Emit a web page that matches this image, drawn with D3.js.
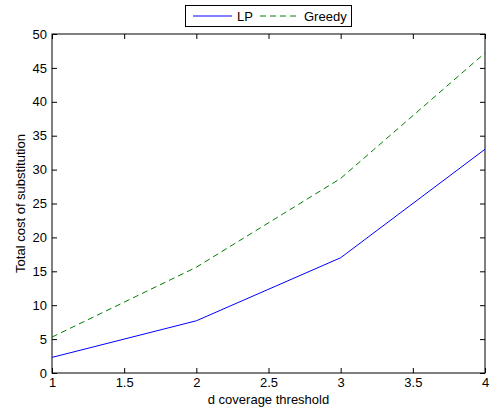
<!DOCTYPE html>
<html>
<head>
<meta charset="utf-8">
<script src="https://cdn.jsdelivr.net/npm/d3@7"></script>
<style>
  body { margin: 0; background: #fff; }
  text { font-family: "Liberation Sans", Arial, sans-serif; }
</style>
</head>
<body>
<div class="chart"></div>
<script>
// data
const thresholds = [1, 2, 3, 4];
const lpCost = [2.3, 7.7, 17.0, 33.0];
const greedyCost = [5.3, 15.6, 28.7, 47.2];
const xTicks = [1, 1.5, 2, 2.5, 3, 3.5, 4];
const yTicks = [0, 5, 10, 15, 20, 25, 30, 35, 40, 45, 50];

const margin = ({top: 34, right: 5, bottom: 41, left: 52});
const width = 490 - margin.left - margin.right;
const height = 414 - margin.top - margin.bottom;

const svg = d3.select('.chart')
  .append('svg')
  .attr("width", 490)
  .attr("height", 414);

const g = svg.append("g")
  .attr("transform", `translate(${margin.left},${margin.top})`);

const xScale = d3.scaleLinear().domain([1, 4]).range([0, width]);
const yScale = d3.scaleLinear().domain([0, 50]).range([height, 0]);

// axes, matlab style: ticks inside, on all four sides
const styleAxis = sel => {
  sel.select(".domain").remove();
  sel.selectAll("line").attr("stroke", "#000");
  sel.selectAll("text").attr("font-size", 13).attr("fill", "#000");
};

g.append("g")
  .attr("transform", `translate(0,${height})`)
  .call(d3.axisBottom(xScale).tickValues(xTicks).tickSize(-5).tickPadding(5).tickFormat(d3.format("")))
  .call(styleAxis);

g.append("g")
  .call(d3.axisTop(xScale).tickValues(xTicks).tickSize(-5).tickFormat(""))
  .call(styleAxis);

g.append("g")
  .call(d3.axisLeft(yScale).tickValues(yTicks).tickSize(-5).tickPadding(5))
  .call(styleAxis);

g.append("g")
  .attr("transform", `translate(${width},0)`)
  .call(d3.axisRight(yScale).tickValues(yTicks).tickSize(-5).tickFormat(""))
  .call(styleAxis);

g.append("rect")
  .attr("width", width)
  .attr("height", height)
  .attr("fill", "none")
  .attr("stroke", "#000")
  .attr("stroke-width", 1);

const line = d3.line()
  .x((d, i) => xScale(thresholds[i]))
  .y(d => yScale(d));

g.append("path")
  .datum(lpCost)
  .attr("d", line)
  .attr("fill", "none")
  .attr("stroke", "#0000ff")
  .attr("stroke-width", 1);

g.append("path")
  .datum(greedyCost)
  .attr("d", line)
  .attr("fill", "none")
  .attr("stroke", "#008000")
  .attr("stroke-width", 1)
  .attr("stroke-dasharray", "6,4");

// axis titles
svg.append("text")
  .attr("x", margin.left + width / 2)
  .attr("y", 404)
  .attr("text-anchor", "middle")
  .attr("font-size", 13)
  .text("d coverage threshold");

svg.append("text")
  .attr("transform", `translate(25,${margin.top + height / 2}) rotate(-90)`)
  .attr("text-anchor", "middle")
  .attr("font-size", 13)
  .text("Total cost of substitution");

// legend
const legend = svg.append("g");
legend.append("rect")
  .attr("x", 185.5).attr("y", 5.5)
  .attr("width", 166).attr("height", 21)
  .attr("fill", "#fff")
  .attr("stroke", "#000");

const items = [
  {name: "LP", color: "#0000ff", dash: null, x: 193},
  {name: "Greedy", color: "#008000", dash: "6,4", x: 260}
];
items.forEach(it => {
  legend.append("line")
    .attr("x1", it.x).attr("x2", it.x + 39)
    .attr("y1", 16).attr("y2", 16)
    .attr("stroke", it.color)
    .attr("stroke-dasharray", it.dash);
  legend.append("text")
    .attr("x", it.x + 44).attr("y", 20.5)
    .attr("font-size", 13)
    .text(it.name);
});
</script>
</body>
</html>
